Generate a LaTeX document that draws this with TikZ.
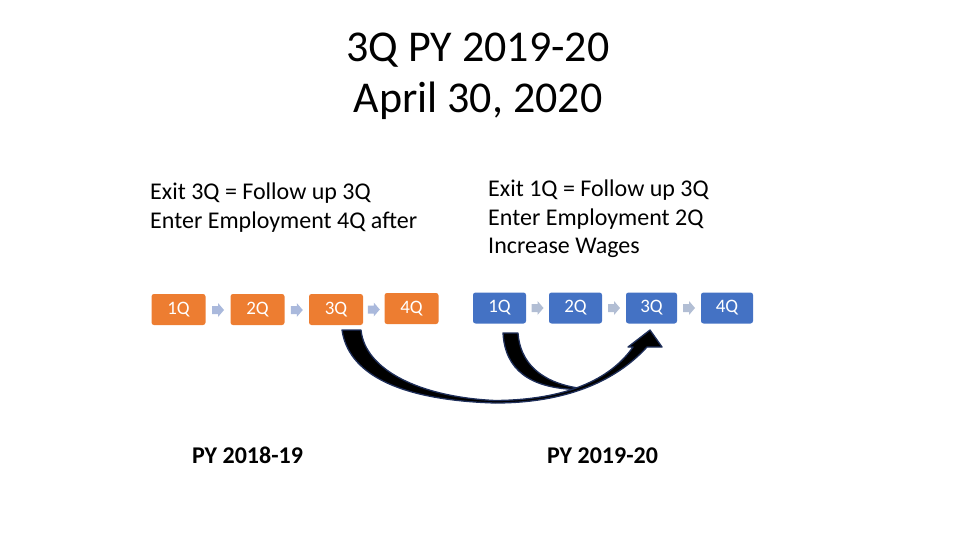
\documentclass[tikz,border=0pt]{standalone}
\usepackage{fontspec}
\setmainfont{Carlito}
\usetikzlibrary{calc}
\definecolor{qorange}{RGB}{237,125,49}
\definecolor{qblue}{RGB}{68,114,196}
\definecolor{arrlight}{RGB}{170,185,220}
\definecolor{arrgrey}{RGB}{178,190,212}
\definecolor{navy}{RGB}{31,47,90}
\tikzset{
  qbox/.style={rounded corners=2.5pt, minimum width=54pt, minimum height=31pt, inner sep=0pt,
    text=white, font=\fontsize{19}{22}\selectfont},
  obox/.style={qbox, fill=qorange},
  bbox/.style={qbox, fill=qblue},
  pics/blockarr/.style={code={\fill (-6,-4) -- (0,-4) -- (0,-7) -- (6,0) -- (0,7) -- (0,4) -- (-6,4) -- cycle;}},
  bodytext/.style={anchor=base west, inner sep=0pt, font=\fontsize{24}{29}\selectfont},
  titletext/.style={anchor=base, inner sep=0pt, font=\fontsize{44}{52}\selectfont},
  pylabel/.style={anchor=base, inner sep=0pt, font=\bfseries\fontsize{24}{29}\selectfont},
  curvearrow/.style={fill=black, draw=navy, line width=1.3pt, line join=round}
}
\begin{document}
\begin{tikzpicture}[x=1pt,y=-1pt]
\useasboundingbox (0,0) rectangle (960,540);
% title
\node[titletext] (t1) at (478,61.5) {3Q PY 2019-20};
\node[titletext] (t2) at (478,112.5) {April 30, 2020};
% left text
\node[bodytext] (l1) at (150,199.5) {Exit 3Q = Follow up 3Q};
\node[bodytext] (l2) at (150,228) {Enter Employment 4Q after};
% right text
\node[bodytext] (r1) at (488,196.5) {Exit 1Q = Follow up 3Q};
\node[bodytext] (r2) at (488,225) {Enter Employment 2Q};
\node[bodytext] (r3) at (488,253.5) {Increase Wages};
% orange boxes
\node[obox] (o1) at (178.5,309.5) {1Q};
\node[obox] (o2) at (257.5,309.5) {2Q};
\node[obox] (o3) at (336,309.5) {3Q};
\node[obox] (o4) at (411.5,308.5) {4Q};
% blue boxes
\node[bbox, minimum width=53pt] (b1) at (499.5,308) {1Q};
\node[bbox, minimum width=53pt] (b2) at (575.5,308) {2Q};
\node[bbox, minimum width=51pt] (b3) at (651.5,308) {3Q};
\node[bbox, minimum width=52pt] (b4) at (727,308) {4Q};
% small block arrows
\coordinate (m1) at ($(o1.east)!0.5!(o2.west)+(0,0.5)$);
\coordinate (m2) at ($(o2.east)!0.5!(o3.west)+(0,0.5)$);
\coordinate (m3) at ($(o3.east)!0.5!(o4.west)+(0,0.5)$);
\coordinate (m4) at ($(b1.east)!0.5!(b2.west)$);
\coordinate (m5) at ($(b2.east)!0.5!(b3.west)$);
\coordinate (m6) at ($(b3.east)!0.5!(b4.west)$);
\foreach \m in {m1,m2,m3} \pic[arrlight] at (\m) {blockarr};
\foreach \m in {m4,m5,m6} \pic[arrgrey] at (\m) {blockarr};
% curved arrows
\draw[curvearrow] (503,333) .. controls (505,370) and (530,388) .. (576,389.5)
  -- (578,388) .. controls (540,382) and (520,362) .. (518,333) -- cycle;
\draw[curvearrow] (342,330) .. controls (348,372) and (395,400) .. (495,403)
  .. controls (565,403) and (615,382) .. (647,347)
  -- (662,347) -- (650,330) -- (628,347) -- (633,347)
  .. controls (610,380) and (565,400) .. (495,400.5)
  .. controls (420,397) and (365,370) .. (361,330) -- cycle;
% bottom labels
\node[pylabel] (p1) at (247.5,463.3) {PY 2018-19};
\node[pylabel] (p2) at (602.5,463.3) {PY 2019-20};
\end{tikzpicture}
\end{document}
